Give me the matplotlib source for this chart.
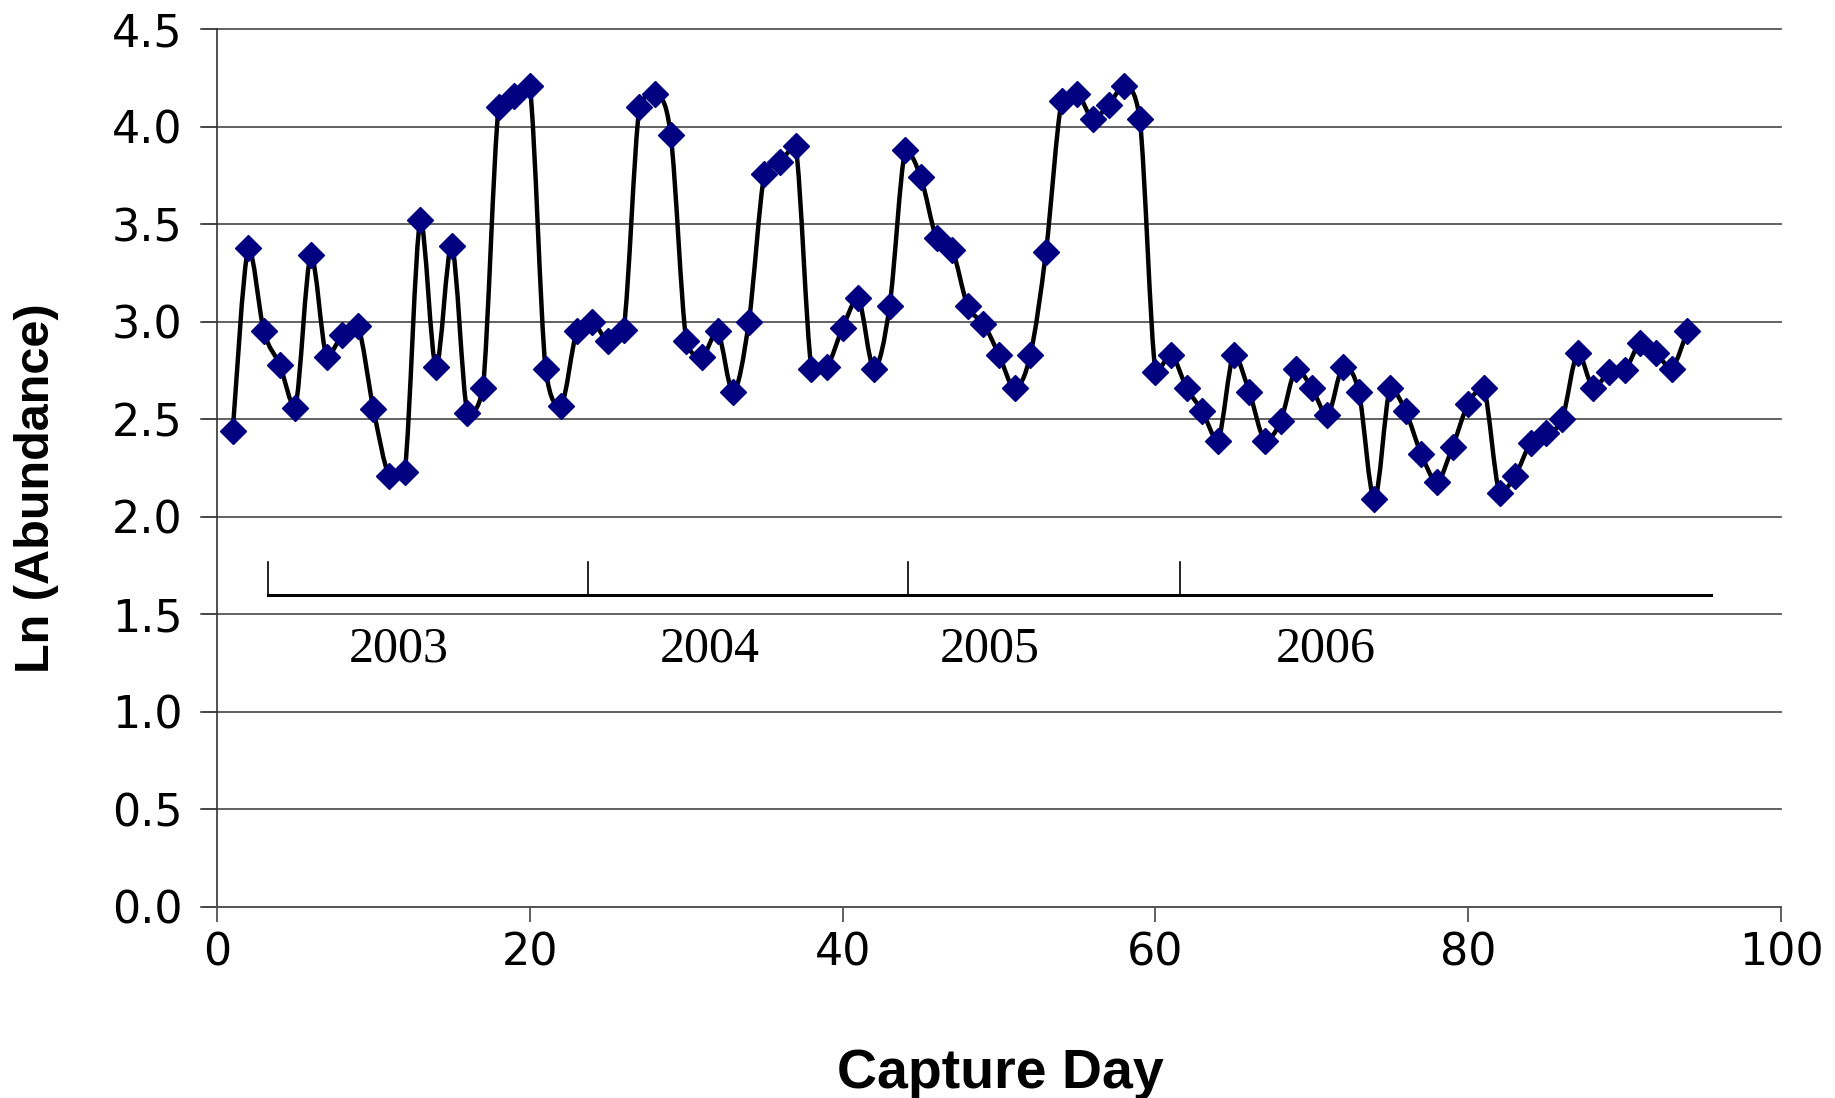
import numpy as np
import matplotlib
matplotlib.use("Agg")
import matplotlib.pyplot as plt
from matplotlib.path import Path
from matplotlib.patches import PathPatch

# capture day and ln(abundance)
days = np.arange(1, 95)
ln_abund = [
    2.44, 3.38, 2.95, 2.78, 2.56, 3.34, 2.82, 2.93, 2.98, 2.55,
    2.21, 2.23, 3.52, 2.77, 3.39, 2.53, 2.66, 4.10, 4.16, 4.21,
    2.76, 2.57, 2.95, 3.00, 2.90, 2.96, 4.10, 4.17, 3.96, 2.90,
    2.82, 2.95, 2.64, 3.00, 3.76, 3.82, 3.90, 2.76, 2.77, 2.97,
    3.12, 2.76, 3.08, 3.88, 3.74, 3.43, 3.37, 3.08, 2.99, 2.83,
    2.66, 2.83, 3.36, 4.13, 4.17, 4.04, 4.11, 4.21, 4.04, 2.74,
    2.83, 2.66, 2.54, 2.39, 2.83, 2.64, 2.39, 2.49, 2.76, 2.66,
    2.52, 2.77, 2.64, 2.09, 2.66, 2.54, 2.32, 2.18, 2.36, 2.58,
    2.66, 2.12, 2.21, 2.38, 2.43, 2.50, 2.84, 2.66, 2.74, 2.75,
    2.89, 2.84, 2.76, 2.95,
]

# season bracket: boundaries along the capture-day axis and year labels
season_edges = [3.25, 23.7, 44.2, 61.6]
season_end = 95.5
years = ["2003", "2004", "2005", "2006"]
year_x = [11.6, 31.5, 49.4, 70.9]
bracket_y = 1.6
bracket_top = 1.77
year_y = 1.32

fig = plt.figure(figsize=(18.35, 10.98), dpi=100)
ax = fig.add_axes([0.1183, 0.1742, 0.8523, 0.7992])

# smoothed line through the points, control points clamped so no overshoot
x = np.asarray(days, dtype=float)
y = np.asarray(ln_abund, dtype=float)
verts = [(x[0], y[0])]
codes = [Path.MOVETO]
n = len(x)
for i in range(n - 1):
    p0 = np.array([x[max(i - 1, 0)], y[max(i - 1, 0)]])
    p1 = np.array([x[i], y[i]])
    p2 = np.array([x[i + 1], y[i + 1]])
    p3 = np.array([x[min(i + 2, n - 1)], y[min(i + 2, n - 1)]])
    c1 = p1 + (p2 - p0) / 6.0
    c2 = p2 - (p3 - p1) / 6.0
    lo, hi = min(p1[1], p2[1]), max(p1[1], p2[1])
    c1[1] = np.clip(c1[1], lo, hi)
    c2[1] = np.clip(c2[1], lo, hi)
    verts += [tuple(c1), tuple(c2), tuple(p2)]
    codes += [Path.CURVE4] * 3
ax.add_patch(PathPatch(Path(verts, codes), fill=False, edgecolor="black",
                       lw=3.2, zorder=3))
ax.plot(days, ln_abund, linestyle="none", marker="D", markersize=13.5,
        color="#000080", zorder=4)

ax.set_xlim(0, 100)
ax.set_ylim(0, 4.5)
ax.set_xticks(np.arange(0, 101, 20))
ax.set_yticks(np.arange(0, 4.51, 0.5))
ax.set_yticklabels([f"{v:.1f}" for v in np.arange(0, 4.51, 0.5)])

for v in np.arange(0.0, 4.51, 0.5):
    ax.plot([-1.0, 100], [v, v], color="#555555", lw=1.3, clip_on=False,
            zorder=1)

for s in ["top", "right"]:
    ax.spines[s].set_visible(False)
ax.spines["left"].set_color("#333333")
ax.spines["bottom"].set_color("#555555")
ax.spines["left"].set_linewidth(1.2)
ax.spines["bottom"].set_linewidth(1.3)
ax.tick_params(axis="both", direction="out", length=11, width=1.2,
               colors="#444444", labelcolor="black", labelsize=32)
ax.tick_params(axis="y", pad=14)
ax.tick_params(axis="x", pad=7)

# season bracket
ax.plot([season_edges[0], season_end], [bracket_y, bracket_y], color="black",
        lw=2.2, zorder=2)
for e in season_edges:
    ax.plot([e, e], [bracket_y, bracket_top], color="black", lw=1.2, zorder=2)
for yr, xp in zip(years, year_x):
    ax.text(xp, year_y, yr, ha="center", va="center", fontsize=36,
            family="Liberation Serif")

ax.set_xlabel("Capture Day", fontsize=40, fontweight="bold",
              family="Liberation Sans")
ax.xaxis.set_label_coords(0.5006, -0.161)
ax.set_ylabel("Ln (Abundance)", fontsize=35, fontweight="bold",
              family="Liberation Sans")
ax.yaxis.set_label_coords(-0.1013, 0.477)

fig.savefig("out.png", dpi=100, facecolor="white")
